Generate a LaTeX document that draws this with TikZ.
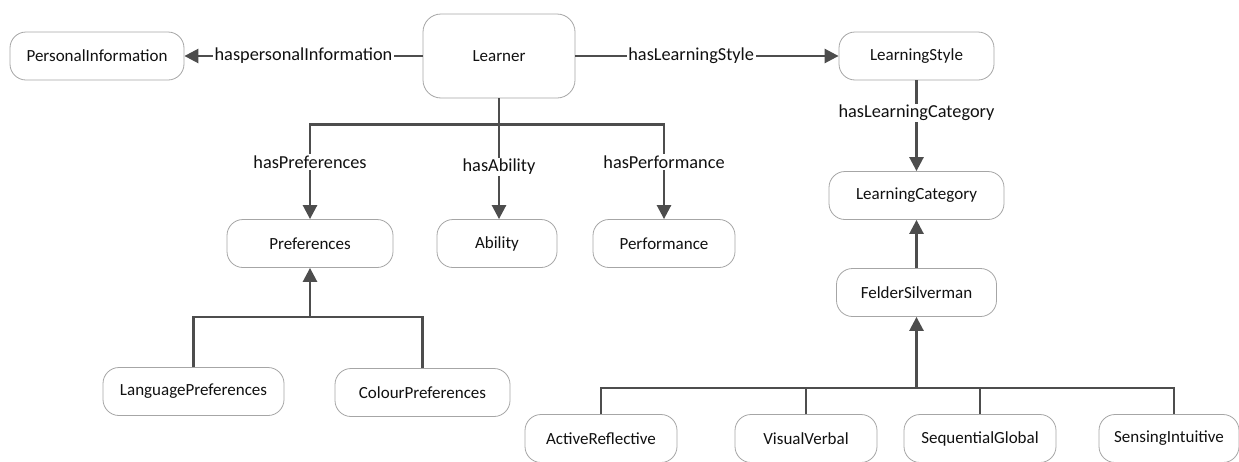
\documentclass[tikz,border=0pt]{standalone}
\usepackage{fontspec}
\setmainfont{Carlito}
\usetikzlibrary{arrows.meta}
\definecolor{boxgray}{HTML}{A6A6A6}
\definecolor{linegray}{HTML}{4D4D4D}
\definecolor{textdark}{HTML}{111111}
\begin{document}
\begin{tikzpicture}[x=1pt,y=-1pt,
  concept/.style={draw=boxgray, line width=0.8pt, rounded corners=16pt, fill=white,
    text=textdark, font=\fontsize{17}{20}\selectfont, inner sep=0pt, minimum height=48pt},
  rel/.style={draw=linegray, line width=2.6pt},
  relarrow/.style={rel, -{Triangle[length=14pt,width=14pt]}},
  lbl/.style={fill=white, text=textdark, font=\fontsize{18.3}{20}\selectfont, inner sep=1.5pt}
]
\useasboundingbox (0,0) rectangle (1239,461);

% classes
\node[concept, minimum width=174pt] (pinfo) at (97,56) {PersonalInformation};
\node[concept, minimum width=152pt, minimum height=84pt, rounded corners=18pt] (learner) at (499,56) {Learner};
\node[concept, minimum width=155pt] (lstyle) at (916.5,56) {LearningStyle};
\node[concept, minimum width=175pt] (lcat) at (916.5,195.5) {LearningCategory};
\node[concept, minimum width=160pt] (felder) at (916.5,292.5) {FelderSilverman};
\node[concept, minimum width=166pt] (pref) at (310,243.5) {Preferences};
\node[concept, minimum width=120pt] (ability) at (497,243.5) {Ability};
\node[concept, minimum width=142pt] (perf) at (664,243.5) {Performance};
\node[concept, minimum width=181pt] (langpref) at (193.5,391.5) {LanguagePreferences};
\node[concept, minimum width=175pt] (colpref) at (422.5,392.5) {ColourPreferences};
\node[concept, minimum width=152pt] (actref) at (601,438.5) {ActiveReflective};
\node[concept, minimum width=142pt] (visverb) at (806,438.5) {VisualVerbal};
\node[concept, minimum width=152pt] (seqglob) at (980,438.5) {SequentialGlobal};
\node[concept, minimum width=140pt] (sensint) at (1169,438.5) {SensingIntuitive};

% junction points of the branching connectors
\path (learner.south) ++(0,26) coordinate (lbus);
\path (pref.south) ++(0,49) coordinate (pbus);
\path (felder.south) ++(0,71) coordinate (fbus);

% properties of the learner
\draw[relarrow] (learner) -- node[lbl] {haspersonalInformation} (pinfo);
\draw[relarrow] (learner) -- node[lbl, pos=0.44] {hasLearningStyle} (lstyle);
\draw[relarrow] (lstyle) -- node[lbl, pos=0.36] {hasLearningCategory} (lcat);

\draw[rel] (learner.south) -- (lbus);
\draw[relarrow] (lbus) -| node[lbl, pos=0.7] {hasPreferences} (pref.north);
\draw[relarrow] (lbus) -- node[lbl, pos=0.45] {hasAbility} (lbus |- ability.north);
\draw[relarrow] (lbus) -| node[lbl, pos=0.7] {hasPerformance} (perf.north);

% subclasses of Preferences
\draw[relarrow] (langpref.north) |- (pbus) -- (pref.south);
\draw[rel] (colpref.north) |- (pbus);

% Felder-Silverman dimensions
\draw[relarrow] (felder) -- (lcat);
\draw[relarrow] (actref.north) |- (fbus) -- (felder.south);
\draw[rel] (visverb.north) |- (fbus);
\draw[rel] (seqglob.north) |- (fbus);
\draw[rel] ([xshift=5pt]sensint.north) |- (fbus);
\end{tikzpicture}
\end{document}
